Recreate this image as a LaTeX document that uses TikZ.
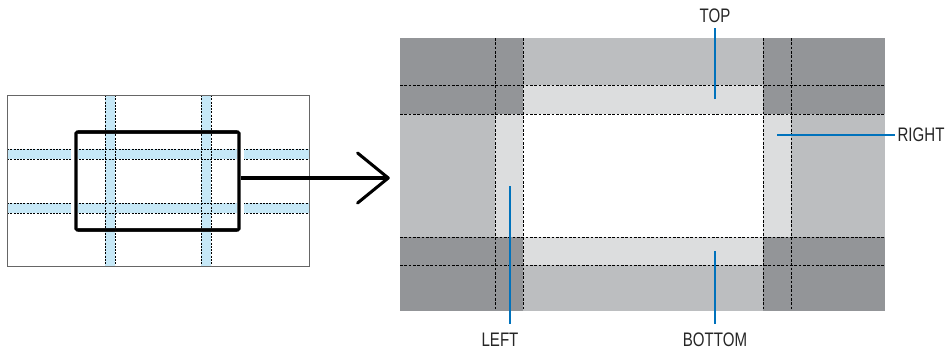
\documentclass[tikz,border=0pt]{standalone}
\usepackage{fontspec}
\setmainfont{Liberation Sans}[FakeStretch=0.77]
\usetikzlibrary{arrows.meta,positioning,calc,fit}
\definecolor{blendblue}{HTML}{C6E8F7}
\definecolor{blendlead}{HTML}{0072BC}
\definecolor{blenddark}{HTML}{939598}
\definecolor{blendmid}{HTML}{BCBEC0}
\definecolor{blendlight}{HTML}{DCDDDE}
\tikzset{blend lead/.style={draw=blendlead, line width=1.6pt}}
\tikzset{blend label/.style={font=\fontsize{16.7}{19}\selectfont, text=black!85, inner sep=2pt}}
\tikzset{blend dots/.style={line width=0.5pt, dash pattern=on 1.7pt off 1.1pt}}
\tikzset{blend dash/.style={line width=0.55pt, dash pattern=on 2.3pt off 1.4pt}}
\tikzset{blend frame/.style={draw=black, line width=2.6pt, rounded corners=1pt, inner sep=0pt}}
\tikzset{blend arrow/.style={-{Straight Barb[length=9.2mm, width=15mm, round]}, line width=2.6pt}}

\begin{document}
\begin{tikzpicture}[x=0.3mm,y=-0.3mm]
		\useasboundingbox (0,0) rectangle (952,355);

		% small screen with the blend bands
		\foreach \x in {105,201} {\fill[blendblue] (\x,95) rectangle (\x+10,266);}
		\foreach \y in {149,203} {\fill[blendblue] (7,\y) rectangle (309,\y+10);}
		\foreach \x in {105,115,201,211} {\draw[blend dots] (\x,95) -- (\x,266);}
		\foreach \y in {149,159,203,213} {\draw[blend dots] (7,\y) -- (309,\y);}
		\node[fit={(7,95) (309,266)}, inner sep=0pt, draw=black!60, line width=0.7pt] (screen) {};

		\node[fit={(76,132) (239,230)}, blend frame] (zoom) {};
		\draw[white, line width=2mm] (zoom.north west) -- (zoom.south west);
		\draw[white, line width=2mm] (zoom.north east) -- (zoom.south east);
		\node[fit={(76,132) (239,230)}, blend frame] {};

		% enlarged view
		\fill[blenddark] (400,38) rectangle (885,311);
		\fill[blendmid] (523,38) rectangle (763,85);
		\fill[blendmid] (523,265) rectangle (763,311);
		\fill[blendmid] (400,114) rectangle (495,237);
		\fill[blendmid] (791,114) rectangle (885,237);
		\fill[blendlight] (523,85) rectangle (763,114);
		\fill[blendlight] (523,237) rectangle (763,265);
		\fill[blendlight] (495,114) rectangle (523,237);
		\fill[blendlight] (763,114) rectangle (791,237);
		\fill[white] (523,114) rectangle (763,237);
		\foreach \x in {495,523,763,791} {\draw[blend dash] (\x,38) -- (\x,311);}
		\foreach \y in {85,114,237,265} {\draw[blend dash] (400,\y) -- (885,\y);}
		\node[fit={(400,38) (885,311)}, inner sep=0pt] (panel) {};

		\coordinate (arrowstart) at ($(zoom.east)+(0,-3)$);
		\draw[blend arrow, shorten >=3mm] (arrowstart) -- (arrowstart -| panel.west);

		% labels
		\node[blend label] (toplabel) at (715,16) {TOP};
		\node[blend label, anchor=west] (rightlabel) at (895,135) {RIGHT};
		\node[blend label] (leftlabel) at (500,340) {LEFT};
		\node[blend label] (bottomlabel) at (715,340) {BOTTOM};

		\coordinate (toppt) at (715,99);
		\coordinate (rightpt) at (777,135);
		\coordinate (leftpt) at (510,186);
		\coordinate (bottompt) at (715,251);

		\draw[blend lead, shorten >=0.6mm] (toppt) -- (toplabel);
		\draw[blend lead] (rightpt) -- (rightlabel.west);
		\draw[blend lead, shorten >=2mm] (leftpt) -- (leftpt |- leftlabel.north);
		\draw[blend lead, shorten >=2mm] (bottompt) -- (bottomlabel);
	\end{tikzpicture}
\end{document}
